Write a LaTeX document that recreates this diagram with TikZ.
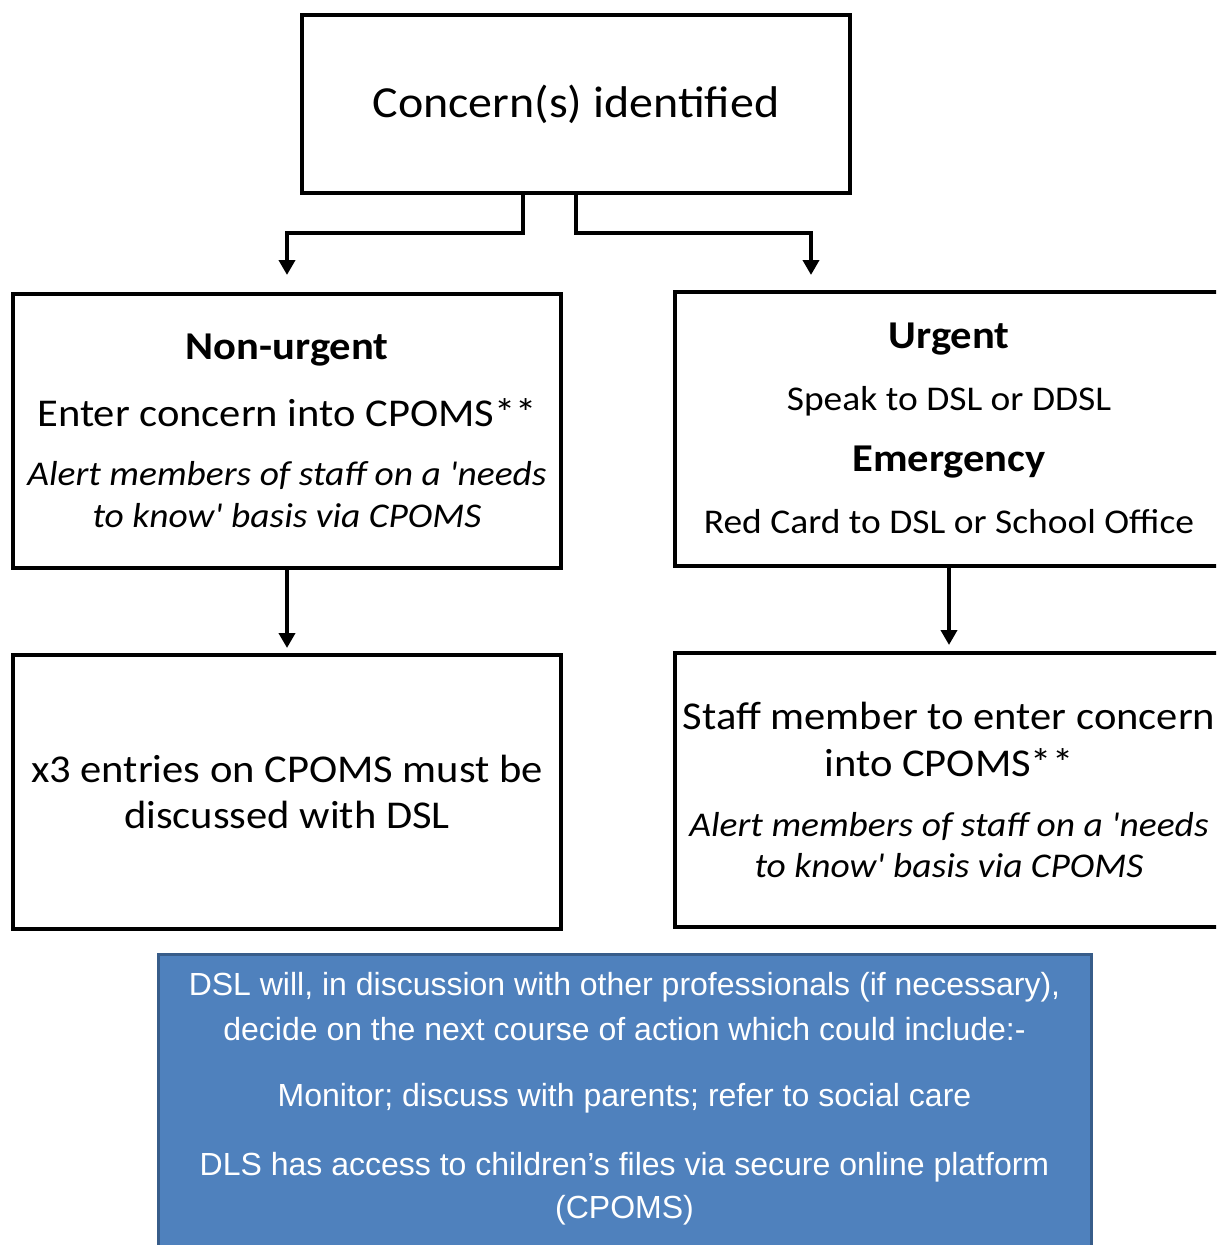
\documentclass[tikz,border=0pt]{standalone}
\usepackage{fontspec}
\setmainfont{Carlito}[FakeStretch=1.08,Ligatures=TeXOff]
\newfontfamily\bluefont{Liberation Sans}
\usetikzlibrary{arrows.meta}
\definecolor{bluefill}{RGB}{79,129,189}
\definecolor{blueedge}{RGB}{56,93,138}
\tikzset{
  box/.style={draw=black, line width=4pt, minimum width=548pt, minimum height=274pt, inner sep=0pt},
  arr/.style={line width=4pt, -{Triangle[width=16pt,length=15pt]}},
  big/.style={font=\fontsize{44.4}{52}\selectfont, inner sep=0pt},
  med/.style={font=\fontsize{39.4}{46}\selectfont, inner sep=0pt},
  medb/.style={font=\bfseries\fontsize{39.4}{46}\selectfont, inner sep=0pt},
  sml/.style={font=\fontsize{34.7}{40}\selectfont, inner sep=0pt},
  smli/.style={font=\itshape\fontsize{34.7}{40}\selectfont, inner sep=0pt},
  bl/.style={font=\bluefont\fontsize{32}{40}\selectfont, text=white, inner sep=0pt},
}
\begin{document}
\begin{tikzpicture}[x=1pt,y=-1pt]
\useasboundingbox (0,0) rectangle (1216,1245);
\clip (0,0) rectangle (1216,1245);
% boxes
\node[box, minimum height=178pt] (top) at (576,104) {};
\node[box] (nu) at (287,431) {};
\node[box] (ur) at (949,429) {};
\node[box] (x3) at (287,792) {};
\node[box] (st) at (949,790) {};
\node[draw=blueedge, fill=bluefill, line width=3pt, minimum width=933pt, minimum height=320pt, inner sep=0pt] (dsl) at (624.5,1114) {};
% texts
\node[big] (t0) at (576,104) {Concern(s) identified};
\node[medb] (t1) at (287,350) {Non-urgent};
\node[med] (t2) at (287,413) {Enter concern into CPOMS**};
\node[smli] (t3) at (287,475) {Alert members of staff on a 'needs};
\node[smli] (t4) at (287,516) {to know' basis via CPOMS};
\node[medb] (u1) at (949,339) {Urgent};
\node[sml] (u2) at (949,401) {Speak to DSL or DDSL};
\node[medb] (u3) at (949,462) {Emergency};
\node[sml] (u4) at (949,522) {Red Card to DSL or School Office};
\node[med] (x1) at (287,769) {x3 entries on CPOMS must be};
\node[med] (x2) at (287,815) {discussed with DSL};
\node[med] (s1) at (949,716) {Staff member to enter concern};
\node[med] (s2) at (949,763) {into CPOMS**};
\node[smli] (s3) at (949,826) {Alert members of staff on a 'needs};
\node[smli] (s4) at (949,866) {to know' basis via CPOMS};
\node[bl] (b1) at (624.5,987) {DSL will, in discussion with other professionals (if necessary),};
\node[bl] (b2) at (624.5,1029) {decide on the next course of action which could include:-};
\node[bl] (b3) at (624.5,1098) {Monitor; discuss with parents; refer to social care};
\node[bl] (b4) at (624.5,1167) {DLS has access to children’s files via secure online platform};
\node[bl] (b5) at (624.5,1210) {(CPOMS)};
% connectors
\coordinate (tl) at (287,275);
\coordinate (tr) at (811,275);
\draw[arr] ([xshift=-53pt]top.south) |- (287,233) -- (tl);
\draw[arr] (top.south) |- (811,233) -- (tr);
\draw[arr] (nu.south) -- ([yshift=5pt]x3.north);
\draw[arr] (ur.south) -- ([yshift=6pt]st.north);
\end{tikzpicture}
\end{document}
